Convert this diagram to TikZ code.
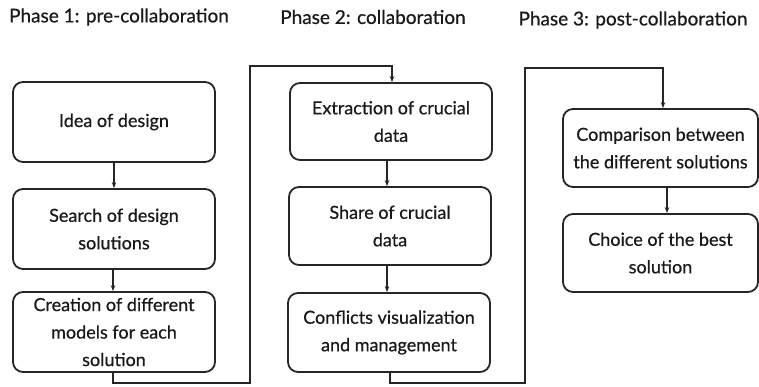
\documentclass[tikz,border=0pt]{standalone}
\usepackage{fontspec}
\setmainfont{Lato}
\usetikzlibrary{arrows.meta}
\begin{document}
\begin{tikzpicture}[x=1pt,y=-1pt,
  stepbox/.style={draw=black!85,line width=1.8pt,rounded corners=10pt,align=center,
    text=black!90,inner sep=0pt,
    font=\fontsize{18}{27.5}\selectfont\addfontfeature{FakeBold=0.6}},
  title/.style={text=black!90,font=\fontsize{19}{22}\selectfont\addfontfeature{FakeBold=0.6},inner sep=0pt},
  conn/.style={draw=black!85,line width=1.1pt,-{Stealth[length=6pt,width=4.5pt]}}]
\useasboundingbox (0,0) rectangle (759,386);
\node[title] (t1) at (119,17) {Phase 1: pre-collaboration};
\node[title] (t2) at (373,17) {Phase 2: collaboration};
\node[title] (t3) at (633,20) {Phase 3: post-collaboration};
\node[stepbox,minimum width=202pt,minimum height=80pt] (b1) at (114,122) {Idea of design};
\node[stepbox,minimum width=202pt,minimum height=80pt] (b2) at (114,229) {Search of design\\solutions};
\node[stepbox,minimum width=202pt,minimum height=80pt] (b3) at (114,332) {Creation of different\\models for each\\solution};
\node[stepbox,minimum width=202pt,minimum height=77pt] (b4) at (391,121.5) {Extraction of crucial\\data};
\node[stepbox,minimum width=202pt,minimum height=78pt] (b5) at (390,226) {Share of crucial\\data};
\node[stepbox,minimum width=202pt,minimum height=79pt] (b6) at (389,332.5) {Conflicts visualization\\and management};
\node[stepbox,minimum width=195pt,minimum height=78pt] (b7) at (660.5,148) {Comparison between\\the different solutions};
\node[stepbox,minimum width=195pt,minimum height=78pt] (b8) at (660.5,253) {Choice of the best\\solution};
\coordinate (p1) at (113,383);
\coordinate (p2) at (250,383);
\coordinate (p3) at (250,66);
\coordinate (p4) at (392,66);
\coordinate (q1) at (390,383);
\coordinate (q2) at (525,383);
\coordinate (q3) at (525,68);
\coordinate (q4) at (663,68);
\draw[conn] (b1.south) -- (b2.north);
\draw[conn] (b2.south -| 113,0) -- (b3.north -| 113,0);
\draw[conn] (b4.south -| 387,0) -- (b5.north -| 387,0);
\draw[conn] (b5.south -| 387,0) -- (b6.north -| 387,0);
\draw[conn] (b7.south -| 667,0) -- (b8.north -| 667,0);
\draw[conn] (b3.south -| p1) -- (p1) -- (p2) -- (p3) -- (p4) -- (b4.north -| p4);
\draw[conn] (b6.south -| q1) -- (q1) -- (q2) -- (q3) -- (q4) -- (b7.north -| q4);
\end{tikzpicture}
\end{document}
